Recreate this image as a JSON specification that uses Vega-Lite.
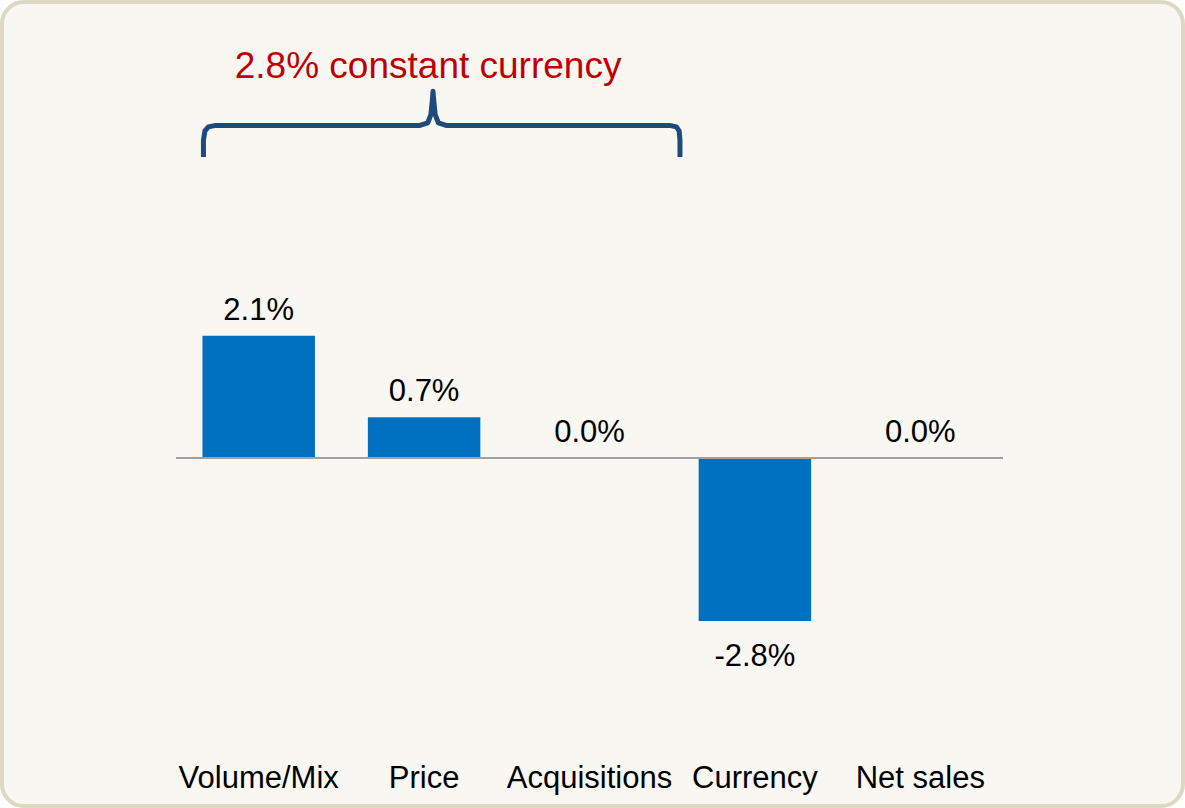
{
  "$schema": "https://vega.github.io/schema/vega-lite/v6.json",
  "width": 1181,
  "height": 804,
  "padding": 2,
  "autosize": "none",
  "background": "#ffffff",
  "config": {
    "view": {"fill": "#f8f7f2", "stroke": "#ddd8c3", "strokeWidth": 4, "cornerRadius": 22},
    "text": {"font": "Liberation Sans"}
  },
  "datasets": {
    "bars": [
      {"cat": "Volume/Mix", "v": 2.1, "label": "2.1%"},
      {"cat": "Price", "v": 0.7, "label": "0.7%"},
      {"cat": "Acquisitions", "v": 0.0, "label": "0.0%"},
      {"cat": "Currency", "v": -2.8, "label": "-2.8%"},
      {"cat": "Net sales", "v": 0.0, "label": "0.0%"}
    ],
    "brace": [
      {"o": 0, "bx": 0.166, "by": 5.17},
      {"o": 1, "bx": 0.166, "by": 5.46},
      {"o": 2, "bx": 0.175, "by": 5.62},
      {"o": 3, "bx": 0.196, "by": 5.69},
      {"o": 4, "bx": 0.24, "by": 5.715},
      {"o": 5, "bx": 1.475, "by": 5.715},
      {"o": 6, "bx": 1.522, "by": 5.76},
      {"o": 7, "bx": 1.541, "by": 5.9},
      {"o": 8, "bx": 1.55, "by": 6.15},
      {"o": 9, "bx": 1.554, "by": 6.3},
      {"o": 10, "bx": 1.558, "by": 6.15},
      {"o": 11, "bx": 1.567, "by": 5.9},
      {"o": 12, "bx": 1.586, "by": 5.76},
      {"o": 13, "bx": 1.633, "by": 5.715},
      {"o": 14, "bx": 2.985, "by": 5.715},
      {"o": 15, "bx": 3.025, "by": 5.69},
      {"o": 16, "bx": 3.042, "by": 5.62},
      {"o": 17, "bx": 3.047, "by": 5.46},
      {"o": 18, "bx": 3.047, "by": 5.17}
    ]
  },
  "resolve": {"scale": {"x": "independent"}},
  "layer": [
    {
      "data": {"name": "bars"},
      "mark": {"type": "bar", "color": "#0070c0"},
      "encoding": {
        "x": {"field": "cat", "type": "nominal", "sort": null, "axis": null,
              "scale": {"domain": ["Volume/Mix", "Price", "Acquisitions", "Currency", "Net sales"], "range": [174, 1001], "paddingInner": 0.32, "paddingOuter": 0.16}},
        "y": {"field": "v", "type": "quantitative", "axis": null,
              "scale": {"domain": [-5, 5], "range": [747, 165], "zero": false, "nice": false}}
      }
    },
    {
      "data": {"values": [{"a": 0, "b": 5}]},
      "mark": {"type": "rule", "color": "#a0a0a0", "strokeWidth": 2},
      "encoding": {
        "x": {"field": "a", "type": "quantitative", "axis": null, "scale": {"domain": [0, 5], "range": [174, 1001], "nice": false, "zero": false}},
        "x2": {"field": "b"},
        "y": {"datum": 0, "type": "quantitative"}
      }
    },
    {
      "data": {"name": "brace"},
      "mark": {"type": "line", "color": "#1f4a7e", "strokeWidth": 5, "strokeCap": "butt", "strokeJoin": "round", "interpolate": "linear"},
      "encoding": {
        "x": {"field": "bx", "type": "quantitative", "axis": null, "scale": {"domain": [0, 5], "range": [174, 1001], "nice": false, "zero": false}},
        "y": {"field": "by", "type": "quantitative"},
        "order": {"field": "o"}
      }
    },
    {
      "data": {"values": [{"t": "2.8% constant currency", "tx": 1.524, "ty": 6.53}]},
      "mark": {"type": "text", "color": "#c00000", "fontSize": 37, "baseline": "alphabetic", "align": "center"},
      "encoding": {
        "x": {"field": "tx", "type": "quantitative", "axis": null, "scale": {"domain": [0, 5], "range": [174, 1001], "nice": false, "zero": false}},
        "y": {"field": "ty", "type": "quantitative"},
        "text": {"field": "t"}
      }
    },
    {
      "data": {"name": "bars"},
      "transform": [{"filter": "datum.v >= 0"}],
      "mark": {"type": "text", "color": "#000000", "fontSize": 31, "baseline": "alphabetic", "align": "center", "dy": -16},
      "encoding": {
        "x": {"field": "cat", "type": "nominal", "sort": null, "axis": null,
              "scale": {"domain": ["Volume/Mix", "Price", "Acquisitions", "Currency", "Net sales"], "range": [174, 1001], "paddingInner": 0.32, "paddingOuter": 0.16}},
        "y": {"field": "v", "type": "quantitative"},
        "text": {"field": "label"}
      }
    },
    {
      "data": {"name": "bars"},
      "transform": [{"filter": "datum.v < 0"}],
      "mark": {"type": "text", "color": "#000000", "fontSize": 31, "baseline": "alphabetic", "align": "center", "dy": 45},
      "encoding": {
        "x": {"field": "cat", "type": "nominal", "sort": null, "axis": null,
              "scale": {"domain": ["Volume/Mix", "Price", "Acquisitions", "Currency", "Net sales"], "range": [174, 1001], "paddingInner": 0.32, "paddingOuter": 0.16}},
        "y": {"field": "v", "type": "quantitative"},
        "text": {"field": "label"}
      }
    },
    {
      "data": {"name": "bars"},
      "mark": {"type": "text", "color": "#000000", "fontSize": 31, "baseline": "alphabetic", "align": "center"},
      "encoding": {
        "x": {"field": "cat", "type": "nominal", "sort": null, "axis": null,
              "scale": {"domain": ["Volume/Mix", "Price", "Acquisitions", "Currency", "Net sales"], "range": [174, 1001], "paddingInner": 0.32, "paddingOuter": 0.16}},
        "y": {"datum": -5.67, "type": "quantitative"},
        "text": {"field": "cat"}
      }
    }
  ]
}
